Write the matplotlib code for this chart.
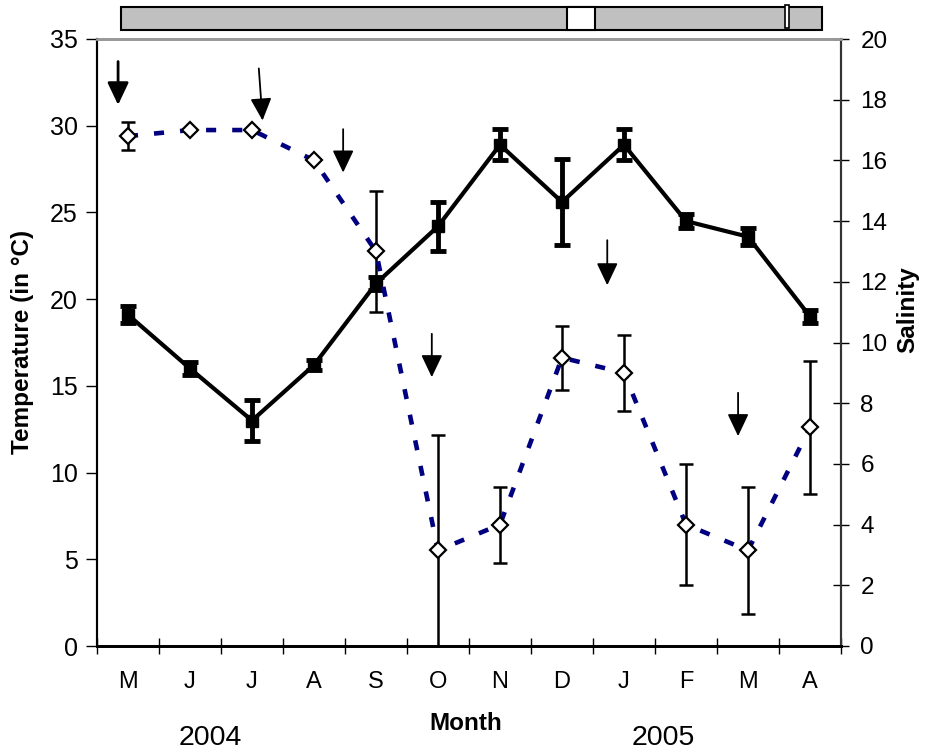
import matplotlib
matplotlib.use("Agg")
import matplotlib.pyplot as plt
from matplotlib.patches import Rectangle
import numpy as np

plt.rcParams['font.family'] = ['Liberation Sans', 'DejaVu Sans']

months = ["M", "J", "J", "A", "S", "O", "N", "D", "J", "F", "M", "A"]
temp = [19.1, 16.0, 13.0, 16.2, 20.9, 24.2, 28.9, 25.6, 28.9, 24.5, 23.6, 19.0]
temp_err = [0.5, 0.4, 1.2, 0.3, 0.4, 1.4, 0.9, 2.5, 0.9, 0.4, 0.5, 0.4]
sal = [16.8, 17.0, 17.0, 16.0, 13.0, 3.15, 4.0, 9.5, 9.0, 4.0, 3.15, 7.2]
sal_err = [0.45, 0, 0, 0, 2.0, 3.8, 1.25, 1.05, 1.25, 2.0, 2.1, 2.2]
# arrow annotations: (x start, x tip, y start, y tip, shaft width) in month index / temperature units
arrows = [(-0.16, -0.16, 33.7, 31.2, 2.0),
          (2.11, 2.17, 33.3, 30.3, 1.3),
          (3.47, 3.47, 29.8, 27.3, 1.3),
          (4.9, 4.9, 18.0, 15.5, 1.3),
          (7.73, 7.73, 23.4, 20.8, 1.3),
          (9.84, 9.84, 14.6, 12.1, 1.3)]
years = ["2004", "2005"]

fig = plt.figure(figsize=(9.25, 7.54), dpi=100)
ax = fig.add_axes([97/925, 1-646/754, (841-97)/925, (646-39)/754])
ax2 = ax.twinx()

x = np.arange(len(months))
ax.errorbar(x, temp, yerr=temp_err, color='black', lw=3, marker='s', ms=8.5,
            mfc='black', mec='black', ecolor='black', elinewidth=3.5,
            capsize=6, capthick=3.5, zorder=3)
ax2.errorbar(x, sal, yerr=np.array(sal_err), fmt='none', ecolor='black',
             elinewidth=1.8, capsize=5, capthick=1.8, zorder=2)
ax2.plot(x, sal, color='#000080', lw=3.3, ls=(0, (2.2, 3.5)),
         dash_capstyle='butt', zorder=2)
ax2.plot(x, sal, ls='none', marker='D', ms=8.5, mfc='white', mec='black',
         mew=1.6, zorder=4)

ax.set_xlim(-0.5, 11.5)
ax.set_ylim(0, 35)
ax2.set_ylim(0, 20)
ax.set_yticks(np.arange(0, 36, 5))
ax2.set_yticks(np.arange(0, 21, 2))
ax.set_xticks(np.arange(-0.5, 12, 1))
ax.set_xticklabels([])
ax.set_xticks(x, minor=True)
ax.set_xticklabels(months, minor=True)
ax.tick_params(axis='x', which='major', direction='inout', length=12, width=1)
ax.tick_params(axis='x', which='minor', length=0, labelsize=17, pad=18)
ax.tick_params(axis='y', direction='out', length=8, width=1, labelsize=18, pad=6)
ax2.tick_params(axis='y', direction='inout', length=12, width=1, labelsize=17.5, pad=8)

for a in (ax, ax2):
    a.spines['top'].set_color('#999999')
    a.spines['top'].set_linewidth(2)
    a.spines['left'].set_linewidth(1.5)
    a.spines['right'].set_linewidth(1.5)
    a.spines['right'].set_color('#333333')
    a.spines['bottom'].set_linewidth(2)

fig.text(23/925, 1-342/754, "Temperature (in °C)", fontsize=17.5, fontweight='bold',
         rotation=90, ha='center', va='center')
fig.text(908/925, 1-310/754, "Salinity", fontsize=17.5, fontweight='bold',
         rotation=90, ha='center', va='center')
fig.text(466/925, 1-723/754, "Month", fontsize=17.5, fontweight='bold',
         ha='center', va='center')

fig.text(210/925, 1-738/754, years[0], fontsize=20.5, ha='center', va='center')
fig.text(663/925, 1-738/754, years[1], fontsize=20.5, ha='center', va='center')

for x0, x1, y0, y1, w in arrows:
    ax.annotate("", xy=(x1, y1), xytext=(x0, y0),
                arrowprops=dict(arrowstyle="-|>,head_length=13.7,head_width=6.5",
                                mutation_scale=1, color='black', lw=w,
                                shrinkA=0, shrinkB=0),
                zorder=5)

# top bar
bar = fig.add_axes([0, 0, 1, 1], facecolor='none')
bar.set_xlim(0, 925)
bar.set_ylim(754, 0)
bar.axis('off')
bar.add_patch(Rectangle((121, 7), 701, 23, facecolor='#c0c0c0', edgecolor='black', lw=1.5))
bar.add_patch(Rectangle((567, 7), 28, 23, facecolor='white', edgecolor='black', lw=1.5))
bar.add_patch(Rectangle((785, 5), 4, 23, facecolor='white', edgecolor='black', lw=1.2))

fig.savefig("out.png", dpi=100)
